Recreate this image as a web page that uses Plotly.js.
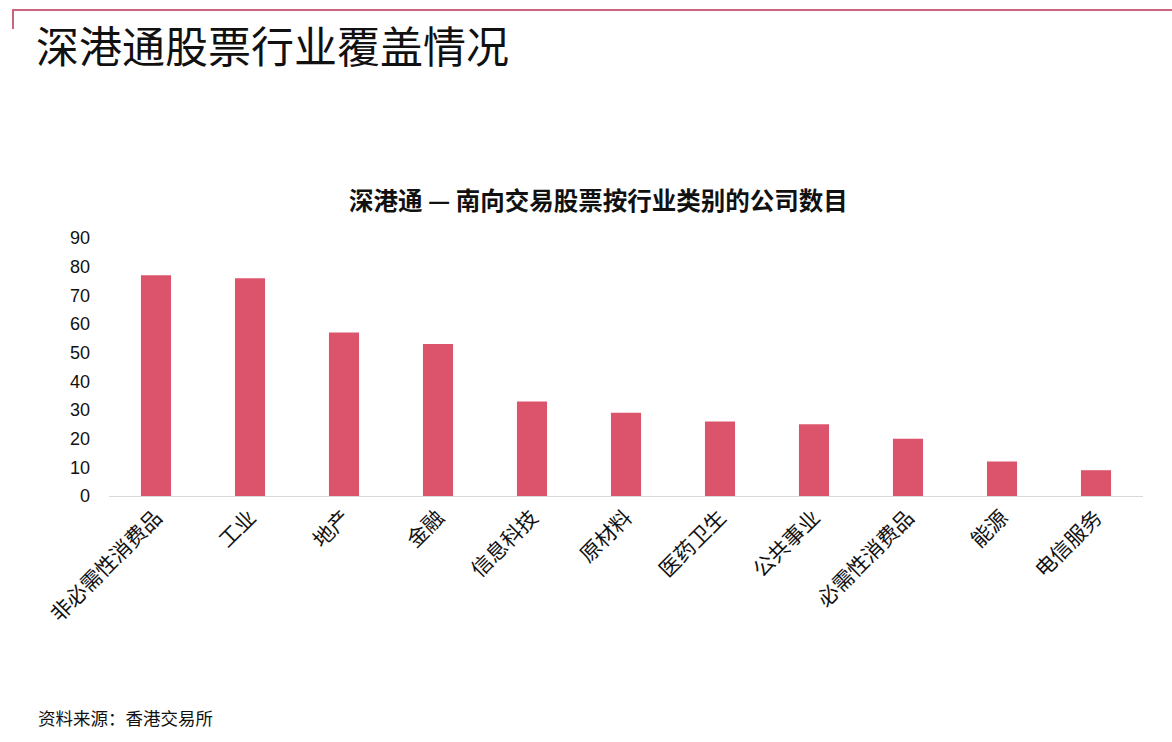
<!DOCTYPE html>
<html>
<head>
<meta charset="utf-8">
<script src="https://cdn.plot.ly/plotly-3.0.1.min.js"></script>
<style>
html,body{margin:0;padding:0;background:#fff;}
#frame{position:absolute;left:0;top:0;width:1172px;height:742px;}
#topline{position:absolute;left:12px;top:9px;width:1160px;height:20px;border-top:2px solid #c8667e;border-left:2px solid #c8667e;box-sizing:border-box;pointer-events:none;z-index:5;}
#chart{position:absolute;left:0;top:0;width:1172px;height:742px;}
</style>
</head>
<body>
<div id="frame">
<div id="chart"></div>
<div id="topline"></div>
</div>
<script>
const categories = ["非必需性消费品","工业","地产","金融","信息科技","原材料","医药卫生","公共事业","必需性消费品","能源","电信服务"];
const counts = [77, 76, 57, 53, 33, 29, 26, 25, 20, 12, 9];
const yTicks = [0,10,20,30,40,50,60,70,80,90];

const cjk = '"Noto Sans CJK SC", "Noto Sans", sans-serif';
const W = 1172, H = 742;
const M = {l:109, r:29, t:238, b:246};
const pw = W - M.l - M.r, ph = H - M.t - M.b;
const px = x => (x - M.l) / pw;
const py = y => (H - M.b - y) / ph;

const trace = {
  type: 'bar',
  x: categories,
  y: counts,
  marker: {color: '#dc546c'},
  hoverinfo: 'x+y'
};

const layout = {
  width: W, height: H,
  margin: M,
  paper_bgcolor: '#ffffff',
  plot_bgcolor: '#ffffff',
  bargap: 0.68,
  showlegend: false,
  title: {
    text: '深港通股票行业覆盖情况',
    font: {family: cjk, size: 43, color: '#111111'},
    xref: 'container', yref: 'container',
    x: 36 / W, xanchor: 'left',
    y: 1 - 48 / H, yanchor: 'middle'
  },
  xaxis: {
    type: 'category',
    tickangle: -45,
    tickfont: {family: cjk, size: 21, color: '#111111'},
    showline: true, linecolor: '#d9d9d9', linewidth: 1,
    ticks: '', showgrid: false, zeroline: false,
    ticklen: 0
  },
  yaxis: {
    range: [0, 90],
    tickvals: yTicks,
    ticktext: yTicks.map(String),
    tickfont: {family: 'Liberation Sans, Arial, sans-serif', size: 18, color: '#111111'},
    showgrid: false, zeroline: false, showline: false,
    ticks: '', ticklabelstandoff: 18
  },
  annotations: [
    {
      text: '<b>深港通 — 南向交易股票按行业类别的公司数目</b>',
      xref: 'paper', yref: 'paper',
      x: px(598), y: py(199), xanchor: 'center', yanchor: 'middle',
      showarrow: false,
      font: {family: cjk, size: 24.5, color: '#111111'}
    },
    {
      text: '资料来源：香港交易所',
      xref: 'paper', yref: 'paper',
      x: px(36), y: py(717), xanchor: 'left', yanchor: 'middle',
      showarrow: false,
      font: {family: cjk, size: 17.5, color: '#111111'}
    }
  ]
};

Plotly.newPlot('chart', [trace], layout, {displayModeBar: false, staticPlot: true});
</script>
</body>
</html>
